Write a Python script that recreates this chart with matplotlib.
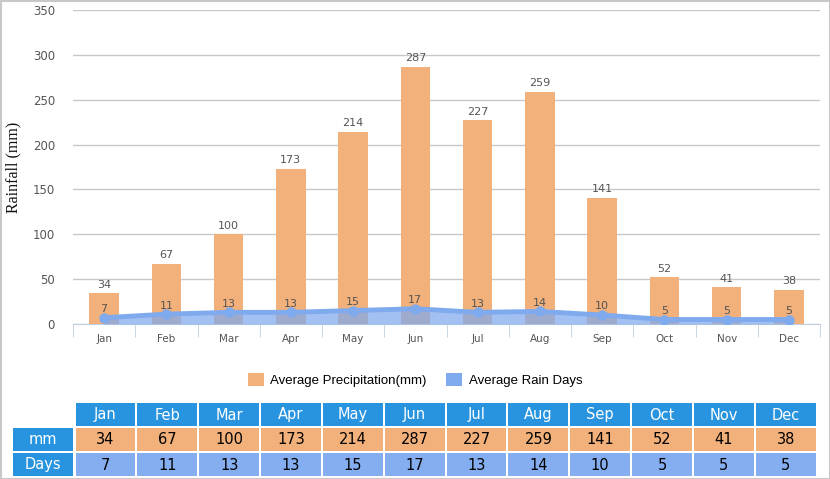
import matplotlib
matplotlib.use("Agg")
import matplotlib.pyplot as plt
from matplotlib.patches import Rectangle
import numpy as np

months = ["Jan", "Feb", "Mar", "Apr", "May", "Jun",
          "Jul", "Aug", "Sep", "Oct", "Nov", "Dec"]
precip_mm = [34, 67, 100, 173, 214, 287, 227, 259, 141, 52, 41, 38]
rain_days = [7, 11, 13, 13, 15, 17, 13, 14, 10, 5, 5, 5]

BAR = "#f2b07a"
LINE = "#7faaee"
HEAD = "#2894e0"
DAYS_BG = "#84aef0"
W, H = 830, 479

plt.rcParams["font.family"] = ["DejaVu Sans"]
fig = plt.figure(figsize=(W / 100, H / 100), dpi=100)

# main chart
ax = fig.add_axes([73 / W, 1 - 324 / H, 747 / W, 314 / H])
x = np.arange(len(months))
ax.bar(x, precip_mm, width=0.47, color=BAR, zorder=2,
       label="Average Precipitation(mm)")
ax.fill_between(x, rain_days, 0, color=LINE, alpha=0.72, lw=0, zorder=3)
ax.plot(x, rain_days, color=LINE, lw=3.5, marker="o", ms=6.5, zorder=4)
# legend proxy for rain days
ax.bar([0], [0], color=LINE, label="Average Rain Days")

for xi, v in zip(x, precip_mm):
    ax.text(xi, v + 4, str(v), ha="center", va="bottom",
            fontsize=8, color="#555555", zorder=5)
for xi, v in zip(x, rain_days):
    ax.text(xi, v + 4, str(v), ha="center", va="bottom",
            fontsize=8, color="#555555", zorder=5)

ax.set_xlim(-0.5, 11.5)
ax.set_ylim(0, 350)
ax.set_yticks(range(0, 351, 50))
ax.yaxis.grid(True, color="#c8c8c8", lw=1, zorder=0)
ax.set_axisbelow(True)
for s in ["top", "right", "left"]:
    ax.spines[s].set_visible(False)
ax.spines["bottom"].set_color("#c0d0e0")
ax.tick_params(axis="y", length=0, labelsize=8.5, labelcolor="#555555", pad=13)
ax.set_xticks(x)
ax.set_xticklabels(months)
ax.tick_params(axis="x", length=0, labelsize=7.5, labelcolor="#555555", pad=7)
ax.set_xticks(np.arange(-0.5, 12, 1), minor=True)
ax.tick_params(axis="x", which="minor", length=9, color="#c0d0e0")
ax.set_ylabel("Rainfall (mm)", family="Liberation Serif", fontsize=11.5,
              color="#111111", labelpad=8)

handles, labels = ax.get_legend_handles_labels()
fig.legend(handles, labels, loc="center", ncol=2,
           bbox_to_anchor=(0.5, 1 - 380 / H), frameon=False,
           prop={"family": "Liberation Sans", "size": 9.5},
           handlelength=1.2, handleheight=1.2, columnspacing=1.5,
           handletextpad=0.5)

# table at the bottom, drawn in pixel coordinates
tab = fig.add_axes([0, 0, 1, 1])
tab.set_xlim(0, W)
tab.set_ylim(H, 0)
tab.axis("off")
tab.patch.set_alpha(0)

col0, col_w = 75.5, 61.85
rows = [(403, 426), (428, 451), (453, 476)]

def cell(x0, x1, row, color, text, tcolor):
    y0, y1 = rows[row]
    tab.add_patch(Rectangle((x0, y0), x1 - x0, y1 - y0, color=color, lw=0))
    tab.text((x0 + x1) / 2, (y0 + y1) / 2 + 0.5, text, ha="center",
             va="center", fontsize=10.5, color=tcolor)

cell(13, 73, 1, HEAD, "mm", "white")
cell(13, 73, 2, HEAD, "Days", "white")
for i, m in enumerate(months):
    x0 = col0 + i * col_w
    x1 = x0 + col_w - 2
    cell(x0, x1, 0, HEAD, m, "white")
    cell(x0, x1, 1, BAR, str(precip_mm[i]), "black")
    cell(x0, x1, 2, DAYS_BG, str(rain_days[i]), "black")

# light border around the whole picture
tab.add_patch(Rectangle((0.5, 0.5), W - 1, H - 1, fill=False,
                        ec="#c8c8c8", lw=1.5))

fig.savefig("out.png", dpi=100)
